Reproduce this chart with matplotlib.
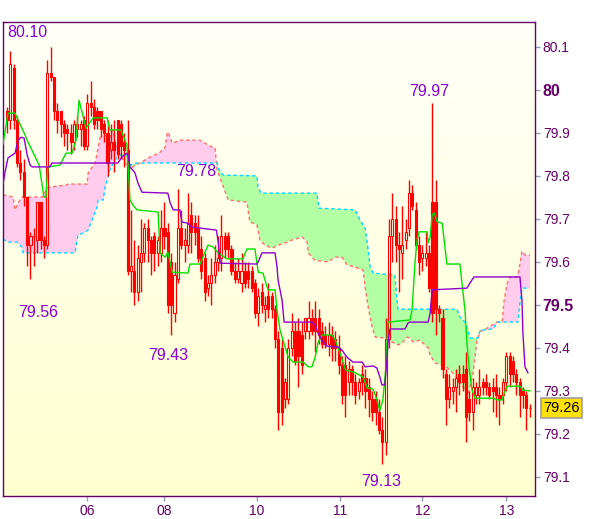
import matplotlib
matplotlib.use("Agg")
import matplotlib.pyplot as plt
import numpy as np

# hourly candles
opens = [79.95, 79.93, 80.05, 79.93, 79.83, 79.81, 79.75, 79.64, 79.66, 79.65,
         79.74, 79.65, 79.64, 80.04, 80.03, 79.95, 79.95, 79.92, 79.91, 79.90,
         79.88, 79.91, 79.91, 79.93, 79.87, 79.97, 79.96, 79.95, 79.95, 79.92,
         79.90, 79.86, 79.88, 79.93, 79.92, 79.88, 79.86, 79.58, 79.58, 79.53,
         79.60, 79.62, 79.68, 79.65, 79.66, 79.62, 79.62, 79.68, 79.67, 79.60,
         79.48, 79.56, 79.68, 79.64, 79.64, 79.71, 79.69, 79.68, 79.63, 79.61,
         79.54, 79.55, 79.57, 79.60, 79.61, 79.66, 79.66, 79.63, 79.58, 79.56,
         79.55, 79.58, 79.58, 79.58, 79.55, 79.48, 79.53, 79.49, 79.52, 79.52,
         79.49, 79.42, 79.40, 79.28, 79.28, 79.40, 79.44, 79.44, 79.43, 79.44,
         79.44, 79.47, 79.47, 79.47, 79.44, 79.43, 79.41, 79.43, 79.42, 79.40,
         79.36, 79.36, 79.32, 79.35, 79.32, 79.30, 79.34, 79.33, 79.31, 79.28,
         79.28, 79.25, 79.21, 79.18, 79.42, 79.66, 79.70, 79.64, 79.62, 79.65,
         79.68, 79.76, 79.72, 79.64, 79.61, 79.61, 79.62, 79.74, 79.74, 79.49,
         79.47, 79.34, 79.28, 79.30, 79.31, 79.34, 79.34, 79.35, 79.28, 79.25,
         79.29, 79.29, 79.32, 79.32, 79.31, 79.31, 79.31, 79.29, 79.29, 79.32,
         79.38, 79.37, 79.34, 79.32, 79.30, 79.29, 79.26]
highs = [79.96, 80.09, 80.06, 79.94, 79.86, 79.84, 79.75, 79.67, 79.68, 79.74,
         79.74, 79.66, 80.07, 80.10, 80.03, 79.97, 79.95, 79.93, 79.92, 79.92,
         79.93, 79.94, 79.93, 79.94, 79.99, 80.02, 79.98, 79.96, 79.95, 79.93,
         79.93, 79.92, 79.93, 79.93, 79.93, 79.90, 79.93, 79.72, 79.65, 79.64,
         79.70, 79.69, 79.70, 79.66, 79.67, 79.66, 79.72, 79.74, 79.69, 79.62,
         79.60, 79.77, 79.72, 79.68, 79.76, 79.74, 79.71, 79.71, 79.66, 79.62,
         79.57, 79.61, 79.64, 79.66, 79.71, 79.67, 79.67, 79.64, 79.60, 79.61,
         79.62, 79.60, 79.60, 79.59, 79.56, 79.54, 79.55, 79.52, 79.55, 79.53,
         79.50, 79.44, 79.42, 79.33, 79.42, 79.48, 79.46, 79.47, 79.46, 79.47,
         79.51, 79.49, 79.51, 79.49, 79.46, 79.45, 79.46, 79.45, 79.44, 79.43,
         79.38, 79.38, 79.37, 79.36, 79.34, 79.33, 79.36, 79.35, 79.33, 79.30,
         79.30, 79.28, 79.24, 79.47, 79.70, 79.76, 79.73, 79.67, 79.73, 79.70,
         79.79, 79.78, 79.74, 79.66, 79.64, 79.67, 79.64, 79.97, 79.79, 79.50,
         79.49, 79.35, 79.34, 79.33, 79.35, 79.36, 79.36, 79.39, 79.30, 79.33,
         79.32, 79.35, 79.33, 79.34, 79.32, 79.33, 79.34, 79.31, 79.33, 79.39,
         79.39, 79.38, 79.35, 79.33, 79.31, 79.30, 79.27]
lows = [79.90, 79.91, 79.91, 79.82, 79.79, 79.73, 79.59, 79.56, 79.59, 79.62,
        79.63, 79.61, 79.63, 80.02, 79.93, 79.90, 79.89, 79.87, 79.86, 79.85,
        79.86, 79.89, 79.87, 79.86, 79.86, 79.94, 79.91, 79.91, 79.89, 79.88,
        79.80, 79.84, 79.81, 79.84, 79.84, 79.82, 79.57, 79.53, 79.50, 79.51,
        79.53, 79.60, 79.60, 79.57, 79.58, 79.59, 79.60, 79.63, 79.48, 79.43,
        79.46, 79.55, 79.63, 79.60, 79.62, 79.62, 79.64, 79.60, 79.56, 79.51,
        79.52, 79.50, 79.55, 79.58, 79.58, 79.61, 79.61, 79.57, 79.55, 79.55,
        79.53, 79.54, 79.54, 79.53, 79.47, 79.45, 79.48, 79.46, 79.47, 79.47,
        79.40, 79.21, 79.22, 79.26, 79.27, 79.38, 79.36, 79.31, 79.34, 79.42,
        79.42, 79.43, 79.39, 79.41, 79.40, 79.40, 79.38, 79.37, 79.37, 79.34,
        79.27, 79.24, 79.29, 79.29, 79.27, 79.28, 79.29, 79.26, 79.24, 79.23,
        79.22, 79.20, 79.13, 79.15, 79.40, 79.60, 79.60, 79.53, 79.56, 79.63,
        79.66, 79.72, 79.63, 79.57, 79.58, 79.59, 79.53, 79.46, 79.43, 79.46,
        79.33, 79.22, 79.26, 79.27, 79.25, 79.29, 79.30, 79.18, 79.23, 79.21,
        79.27, 79.27, 79.29, 79.29, 79.28, 79.25, 79.24, 79.22, 79.27, 79.30,
        79.31, 79.32, 79.29, 79.24, 79.26, 79.21, 79.24]
closes = [79.93, 80.06, 79.93, 79.83, 79.81, 79.75, 79.64, 79.66, 79.66, 79.74,
          79.65, 79.64, 80.04, 80.03, 79.95, 79.93, 79.92, 79.90, 79.90, 79.88,
          79.92, 79.92, 79.92, 79.87, 79.97, 79.96, 79.92, 79.93, 79.91, 79.90,
          79.83, 79.88, 79.86, 79.85, 79.87, 79.86, 79.58, 79.59, 79.53, 79.61,
          79.62, 79.68, 79.65, 79.62, 79.62, 79.65, 79.68, 79.66, 79.50, 79.50,
          79.57, 79.68, 79.64, 79.65, 79.69, 79.67, 79.67, 79.61, 79.58, 79.53,
          79.55, 79.57, 79.60, 79.61, 79.66, 79.63, 79.63, 79.58, 79.56, 79.58,
          79.58, 79.55, 79.56, 79.54, 79.48, 79.52, 79.50, 79.50, 79.49, 79.49,
          79.42, 79.25, 79.25, 79.32, 79.40, 79.44, 79.37, 79.38, 79.36, 79.47,
          79.47, 79.44, 79.44, 79.43, 79.41, 79.41, 79.43, 79.40, 79.40, 79.36,
          79.29, 79.29, 79.35, 79.32, 79.29, 79.32, 79.32, 79.30, 79.28, 79.25,
          79.25, 79.21, 79.18, 79.42, 79.66, 79.70, 79.64, 79.63, 79.64, 79.67,
          79.76, 79.73, 79.64, 79.60, 79.62, 79.62, 79.54, 79.48, 79.49, 79.48,
          79.35, 79.28, 79.31, 79.31, 79.33, 79.32, 79.32, 79.24, 79.25, 79.31,
          79.31, 79.31, 79.31, 79.31, 79.29, 79.30, 79.29, 79.28, 79.32, 79.38,
          79.34, 79.34, 79.32, 79.29, 79.29, 79.26, 79.26]

# ichimoku lines as breakpoints (bar index, price)
tenkan_x = [-1.2, 0.3, 2.4, 3.3, 5.4, 6.0, 9.6, 11.0, 11.6, 12.2, 15.8, 17.6, 19.4, 20.6,
            21.5, 23.6, 25.7, 29.9, 30.7, 34.0, 35.8, 36.7, 37.6, 38.8, 45.1, 45.7, 47.2,
            48.0, 49.3, 54.0, 54.6, 57.6, 60.0, 61.5, 63.0, 65.7, 70.4, 71.6, 74.0, 75.0,
            76.4, 77.6, 78.0, 80.0, 80.6, 81.5, 82.4, 83.9, 85.4, 88.4, 89.9, 91.0, 92.0,
            92.8, 94.0, 97.0, 98.0, 99.4, 101.0, 104.0, 106.3, 107.5, 109.3, 110.4, 111.3,
            112.2, 113.1, 113.7, 120.3, 120.9, 121.8, 122.4, 123.0, 125.4, 125.7, 126.3,
            126.9, 127.5, 128.4, 129.9, 131.3, 135.2, 135.8, 136.7, 137.3, 137.9, 138.8,
            139.7, 145.1, 146.3, 147.8, 148.4, 149.3, 153.1, 154.0, 156.1]
tenkan_y = [79.874, 79.946, 79.946, 79.930, 79.895, 79.883, 79.825, 79.751, 79.751, 79.821,
            79.825, 79.853, 79.853, 79.883, 79.976, 79.911, 79.935, 79.935, 79.907, 79.907,
            79.872, 79.744, 79.732, 79.721, 79.716, 79.621, 79.611, 79.623, 79.576, 79.574,
            79.595, 79.595, 79.639, 79.635, 79.621, 79.607, 79.607, 79.630, 79.630, 79.576,
            79.574, 79.542, 79.535, 79.535, 79.488, 79.441, 79.418, 79.379, 79.367, 79.367,
            79.356, 79.356, 79.379, 79.411, 79.430, 79.430, 79.418, 79.388, 79.349, 79.342,
            79.332, 79.307, 79.304, 79.279, 79.255, 79.279, 79.356, 79.460, 79.465, 79.488,
            79.600, 79.651, 79.670, 79.670, 79.644, 79.658, 79.709, 79.714, 79.693, 79.690,
            79.595, 79.595, 79.551, 79.488, 79.411, 79.356, 79.302, 79.283, 79.283, 79.279,
            79.279, 79.295, 79.311, 79.311, 79.302, 79.300]

kijun_x = [-1.2, -0.6, 0.3, 2.4, 3.3, 4.2, 5.1, 6.0, 6.9, 7.5, 12.8, 13.4, 33.1, 34.3,
           35.8, 36.1, 36.7, 38.2, 39.1, 40.3, 48.0, 48.7, 49.6, 51.6, 52.2, 54.0, 55.1,
           62.5, 63.1, 63.6, 74.6, 75.2, 76.1, 80.0, 80.6, 80.9, 82.1, 82.7, 91.0, 92.0,
           92.8, 94.0, 95.5, 98.8, 100.0, 101.0, 101.8, 103.3, 106.0, 106.9, 109.3, 110.4,
           111.3, 111.9, 112.8, 113.4, 113.7, 114.3, 118.8, 119.7, 120.3, 125.7, 126.3,
           126.9, 137.3, 138.2, 139.4, 153.1, 153.7, 154.0, 154.6, 155.5]
kijun_y = [79.781, 79.809, 79.842, 79.853, 79.883, 79.890, 79.888, 79.849, 79.825, 79.821,
           79.821, 79.830, 79.830, 79.844, 79.853, 79.849, 79.821, 79.807, 79.783, 79.762,
           79.760, 79.737, 79.721, 79.721, 79.693, 79.690, 79.681, 79.674, 79.644, 79.597,
           79.595, 79.604, 79.621, 79.621, 79.588, 79.558, 79.511, 79.460, 79.460, 79.453,
           79.435, 79.418, 79.404, 79.402, 79.395, 79.383, 79.376, 79.367, 79.367, 79.356,
           79.358, 79.353, 79.332, 79.314, 79.314, 79.372, 79.411, 79.444, 79.444, 79.458,
           79.460, 79.460, 79.481, 79.535, 79.539, 79.551, 79.565, 79.565, 79.511, 79.434,
           79.356, 79.342]

span_a_x = [-1.2, 1.8, 2.4, 3.3, 4.5, 10.7, 11.9, 12.8, 17.9, 18.2, 23.9, 24.2, 26.3, 27.8,
            29.9, 30.7, 31.3, 31.6, 32.2, 33.7, 35.8, 36.7, 38.2, 39.7, 42.7, 45.7, 47.2,
            47.8, 48.1, 49.3, 51.6, 57.6, 59.1, 61.2, 62.1, 62.7, 64.2, 66.0, 71.6, 72.5,
            74.6, 75.5, 77.0, 79.1, 80.9, 83.0, 85.1, 88.1, 89.6, 89.9, 91.9, 95.8, 97.9,
            100.0, 101.5, 103.9, 106.3, 106.9, 107.8, 109.0, 109.9, 113.4, 114.9, 116.7,
            117.9, 119.4, 120.3, 121.2, 123.3, 124.2, 125.7, 126.3, 127.8, 131.3, 133.7,
            135.8, 137.6, 139.1, 140.3, 141.2, 142.7, 146.3, 147.8, 148.4, 149.3, 150.1,
            152.2, 152.8, 153.7, 154.6, 156.1]
span_a_y = [79.756, 79.751, 79.721, 79.737, 79.751, 79.751, 79.772, 79.774, 79.779, 79.781,
            79.781, 79.807, 79.830, 79.890, 79.895, 79.890, 79.902, 79.907, 79.883, 79.849,
            79.823, 79.814, 79.825, 79.830, 79.844, 79.855, 79.867, 79.900, 79.902, 79.876,
            79.883, 79.883, 79.876, 79.867, 79.865, 79.814, 79.783, 79.744, 79.739, 79.693,
            79.686, 79.651, 79.639, 79.632, 79.639, 79.644, 79.651, 79.658, 79.646, 79.621,
            79.604, 79.600, 79.611, 79.611, 79.593, 79.588, 79.581, 79.541, 79.495, 79.448,
            79.425, 79.423, 79.414, 79.407, 79.411, 79.425, 79.423, 79.414, 79.418, 79.411,
            79.400, 79.383, 79.365, 79.355, 79.337, 79.313, 79.290, 79.341, 79.418, 79.438,
            79.443, 79.460, 79.462, 79.511, 79.551, 79.565, 79.565, 79.581, 79.625, 79.616,
            79.616]

span_b_x = [-1.2, 0.3, 3.0, 4.5, 4.8, 20.3, 20.9, 21.2, 22.7, 24.2, 26.9, 27.2, 28.7, 29.3,
            30.1, 30.7, 32.2, 33.1, 34.6, 35.8, 36.7, 38.8, 62.7, 63.0, 64.5, 74.6, 74.9,
            75.8, 92.5, 93.1, 103.9, 105.4, 106.9, 107.8, 108.4, 109.3, 115.8, 116.4, 116.7,
            134.3, 135.2, 136.7, 137.6, 138.2, 140.6, 141.2, 145.1, 146.3, 152.5, 153.1,
            153.7, 156.1]
span_b_y = [79.653, 79.646, 79.646, 79.634, 79.621, 79.621, 79.651, 79.662, 79.667, 79.674,
            79.728, 79.744, 79.744, 79.774, 79.797, 79.814, 79.837, 79.844, 79.853, 79.849,
            79.825, 79.830, 79.830, 79.818, 79.802, 79.800, 79.774, 79.760, 79.760, 79.725,
            79.721, 79.697, 79.679, 79.628, 79.588, 79.574, 79.569, 79.511, 79.490, 79.490,
            79.472, 79.460, 79.441, 79.423, 79.423, 79.441, 79.444, 79.460, 79.460, 79.504,
            79.539, 79.539]

day_ticks = [24, 47, 74.5, 99.5, 124, 149]
day_labels = ["06", "08", "10", "11", "12", "13"]
price_ticks = [79.1, 79.2, 79.3, 79.4, 79.5, 79.6, 79.7, 79.8, 79.9, 80.0, 80.1]
price_labels = ["79.1", "79.2", "79.3", "79.4", "79.5", "79.6", "79.7", "79.8", "79.9", "80", "80.1"]
bold_labels = ["79.5", "80"]

# marked extremes: (bar index, price level where the text sits, text)
marks = [(0.0, 80.134, "80.10"), (9.3, 79.483, "79.56"), (48.1, 79.383, "79.43"),
         (56.4, 79.811, "79.78"), (126.1, 79.996, "79.97"), (111.6, 79.090, "79.13")]
last_price = 79.26

plt.rcParams["font.family"] = ["Liberation Sans", "DejaVu Sans"]
fig = plt.figure(figsize=(6.0, 5.19), dpi=100)
ax = fig.add_axes([3 / 600, 1 - 496 / 519, 532 / 600, 474 / 519])

# background gradient
grad = np.linspace(0, 1, 256).reshape(-1, 1)
top = np.array([1.0, 1.0, 0.975])
bot = np.array([1.0, 1.0, 0.815])
img = top + (bot - top) * grad[:, :, None]
ax.imshow(img, extent=[0, 1, 0, 1], transform=ax.transAxes, aspect="auto", zorder=0)

# cloud
grid = np.union1d(span_a_x, span_b_x)
a = np.interp(grid, span_a_x, span_a_y)
b = np.interp(grid, span_b_x, span_b_y)
ax.fill_between(grid, a, b, where=a >= b, interpolate=True, color="#ffccee", lw=0, zorder=1)
ax.fill_between(grid, a, b, where=a <= b, interpolate=True, color="#b3ffa3", lw=0, zorder=1)
ax.plot(span_a_x, span_a_y, color="#ff6f6f", lw=1.0, ls=(0, (2.5, 2)), zorder=2)
ax.plot(span_b_x, span_b_y, color="#00d8ff", lw=1.0, ls=(0, (2.5, 2)), zorder=2)

# candles
o = np.array(opens)
h = np.array(highs)
l = np.array(lows)
c = np.array(closes)
idx = np.arange(len(o))
btop = np.maximum(o, c)
bbot = np.minimum(o, c)
red = "#ff0000"
ax.vlines(idx, btop, h, color=red, lw=1.0, zorder=3)
ax.vlines(idx, l, bbot, color=red, lw=1.0, zorder=3)
up = c > o
down = c < o
flat = c == o
w = 0.62
ax.bar(idx[down], (btop - bbot)[down], bottom=bbot[down], width=w,
       color=red, edgecolor=red, lw=0.8, zorder=4)
ax.bar(idx[up], (btop - bbot)[up], bottom=bbot[up], width=w,
       facecolor="none", edgecolor=red, lw=0.8, zorder=4)
ax.hlines(c[flat], idx[flat] - w / 2, idx[flat] + w / 2, color=red, lw=1.0, zorder=4)

# tenkan / kijun
ax.plot(tenkan_x, tenkan_y, color="#00e000", lw=1.0, zorder=5)
ax.plot(kijun_x, kijun_y, color="#9000d0", lw=1.0, zorder=5)

for mx, my, txt in marks:
    ax.text(mx, my, txt, color="#8a00d4", fontsize=11.5, ha="left" if txt == "80.10" else "center",
            va="center", zorder=6)

ax.set_xlim(-1.2, 157.6)
ax.set_ylim(79.0555, 80.158)

ax.yaxis.tick_right()
ax.set_yticks(price_ticks)
ax.set_yticklabels(price_labels)
ax.set_xticks(day_ticks)
ax.set_xticklabels(day_labels)
ax.tick_params(axis="both", direction="out", length=3.6, width=1.0, color="#8fa0b0",
               labelcolor="#660066", labelsize=10, pad=2)
for lab in ax.get_yticklabels():
    if lab.get_text() in bold_labels:
        lab.set_fontweight("bold")
        lab.set_fontsize(11.5)
for s in ax.spines.values():
    s.set_color("#660066")
    s.set_linewidth(1.0)

ax.annotate(f"{last_price:.2f}", xy=(1, last_price), xycoords=("axes fraction", "data"),
            xytext=(6, 0), textcoords="offset points", ha="left", va="center",
            fontsize=10.5, color="black",
            bbox=dict(boxstyle="square,pad=0.18", fc="#ffe000", ec="#a0a0a0", lw=1.2))

fig.savefig("out.png", dpi=100, facecolor="white")
